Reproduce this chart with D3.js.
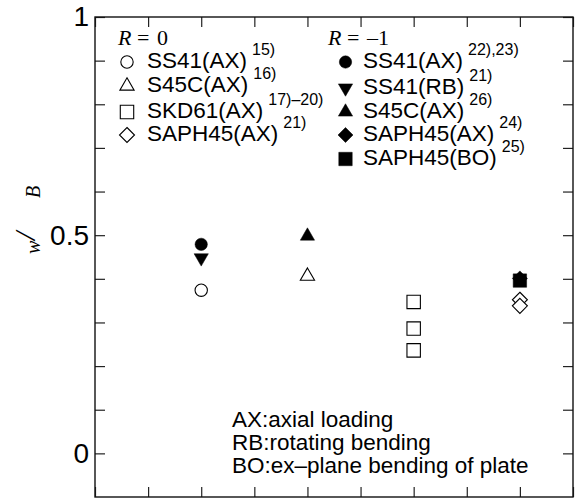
<!DOCTYPE html>
<html>
<head>
<meta charset="utf-8">
<script src="https://cdn.jsdelivr.net/npm/d3@7"></script>
<style>
  body { margin: 0; background: #fff; }
  svg { display: block; }
  .sans { font-family: "Liberation Sans", Arial, sans-serif; }
  .serif { font-family: "Liberation Serif", "Times New Roman", serif; }
</style>
</head>
<body>
<svg id="chart" width="578" height="498"></svg>
<script>
// R = 0 series
const r0Names = ["SS41(AX)", "S45C(AX)", "SKD61(AX)", "SAPH45(AX)"];
const r0Refs = ["15)", "16)", "17)\u201320)", "21)"];
const r0Symbols = ["circle", "triangle", "square", "diamond"];
const r0X = [2, 4, 6, 8];
const r0Values = [[0.374], [0.406], [0.347, 0.286, 0.236], [0.352, 0.338]];

// R = -1 series
const r1Names = ["SS41(AX)", "SS41(RB)", "S45C(AX)", "SAPH45(AX)", "SAPH45(BO)"];
const r1Refs = ["22),23)", "21)", "26)", "24)", "25)"];
const r1Symbols = ["circle", "triangleDown", "triangle", "diamond", "square"];
const r1X = [2, 2, 4, 8, 8];
const r1Values = [[0.479], [0.448], [0.498], [0.401], [0.396]];

const notes = ["AX:axial loading", "RB:rotating bending", "BO:ex\u2013plane bending of plate"];
const yLabels = [0, 0.5, 1];

const svg = d3.select("#chart");
const plotL = 95, plotR = 573, plotT = 17, plotB = 497;

let x = d3.scaleLinear().domain([0, 9]).range([plotL, plotR]);
let y = d3.scaleLinear().domain([-0.1, 1]).range([plotB, plotT]);

// symbol paths
function symPath(kind) {
    if (kind === "circle") return d3.symbol(d3.symbolCircle, 120)();
    if (kind === "triangle") return d3.symbol(d3.symbolTriangle, 88)();
    if (kind === "triangleDown") return d3.symbol(d3.symbolTriangle, 88)();
    if (kind === "square") return d3.symbol(d3.symbolSquare, 180)();
    let r = 7.5;
    return `M0,${-r}L${r},0L0,${r}L${-r},0Z`;
}
function drawSym(g, kind, filled, cx, cy) {
    g.append("path")
        .attr("d", symPath(kind))
        .attr("transform", `translate(${cx},${cy})` + (kind === "triangleDown" ? " rotate(180)" : ""))
        .attr("fill", filled ? "#000" : "#fff")
        .attr("stroke", "#000")
        .attr("stroke-width", filled ? 0.5 : 1.1);
}

// axes with inward ticks
let yTicks = d3.range(0, 11).map(d => d / 10);
svg.append("g")
    .attr("transform", `translate(${plotL},0)`)
    .call(d3.axisLeft(y).tickValues(yTicks).tickSize(-10).tickPadding(6)
        .tickFormat(d => yLabels.some(v => Math.abs(v - d) < 1e-9) ? d3.format("")(d) : ""))
    .call(g => g.select(".domain").remove())
    .call(g => g.selectAll("text").attr("class", "sans").attr("font-size", 28).attr("fill", "#000"));
svg.append("g")
    .attr("transform", `translate(${plotR},0)`)
    .call(d3.axisRight(y).tickValues(yTicks).tickSize(-10).tickFormat(""))
    .call(g => g.select(".domain").remove());
svg.append("g")
    .attr("transform", `translate(0,${plotB})`)
    .call(d3.axisBottom(x).ticks(9).tickSize(-10).tickFormat(""))
    .call(g => g.select(".domain").remove());
svg.append("g")
    .attr("transform", `translate(0,${plotT})`)
    .call(d3.axisTop(x).ticks(9).tickSize(-10).tickFormat(""))
    .call(g => g.select(".domain").remove());
svg.selectAll(".tick line").attr("stroke", "#222").attr("stroke-width", 1.2);

svg.append("rect")
    .attr("x", plotL).attr("y", plotT)
    .attr("width", plotR - plotL).attr("height", plotB - plotT)
    .attr("fill", "none").attr("stroke", "#111").attr("stroke-width", 1.4);

// y label (sigma glyphs not rendered in the original)
let yl = svg.append("g").attr("class", "serif").attr("font-style", "italic").attr("fill", "#000");
yl.append("text").attr("transform", "translate(40,254) rotate(-90)").attr("font-size", 20).text("w");
yl.append("text").attr("transform", "translate(35,240) rotate(-90)").attr("font-size", 30).text("/");
yl.append("text").attr("transform", "translate(40,198) rotate(-90)").attr("font-size", 20).text("B");

// data points
let pts = svg.append("g");
r0Values.forEach((vals, i) => vals.forEach(v => drawSym(pts, r0Symbols[i], false, x(r0X[i]), y(v))));
r1Values.forEach((vals, i) => vals.forEach(v => drawSym(pts, r1Symbols[i], true, x(r1X[i]), y(v))));

// legends
function legendHead(gx, label) {
    let t = svg.append("text").attr("class", "serif").attr("font-size", 22).attr("y", 45);
    t.append("tspan").attr("x", gx).attr("font-style", "italic").text("R");
    t.append("tspan").attr("x", gx + 19).text("=");
    t.append("tspan").attr("x", gx + 39).text(label);
}
function legendRows(names, refs, symbols, filled, symX, textX, baselines) {
    names.forEach((n, i) => {
        drawSym(svg, symbols[i], filled, symX, baselines[i] - 6);
        let t = svg.append("text").attr("class", "sans").attr("font-size", 22.5)
            .attr("x", textX).attr("y", baselines[i]).text(n);
        let w = t.node().getComputedTextLength();
        svg.append("text").attr("class", "sans").attr("font-size", 16)
            .attr("x", textX + w + 5).attr("y", baselines[i] - 13).text(refs[i]);
    });
}
legendHead(118, "0");
legendHead(328, "\u20131");
legendRows(r0Names, r0Refs, r0Symbols, false, 127, 147, [68, 92, 118, 141]);
legendRows(r1Names, r1Refs, r1Symbols, true, 345.5, 363, [68, 94, 118, 141, 165]);

// notes
svg.append("g").selectAll("text").data(notes).join("text")
    .attr("class", "sans").attr("font-size", 22.5)
    .attr("x", 232).attr("y", (d, i) => 427 + i * 23)
    .text(d => d);
</script>
</body>
</html>
